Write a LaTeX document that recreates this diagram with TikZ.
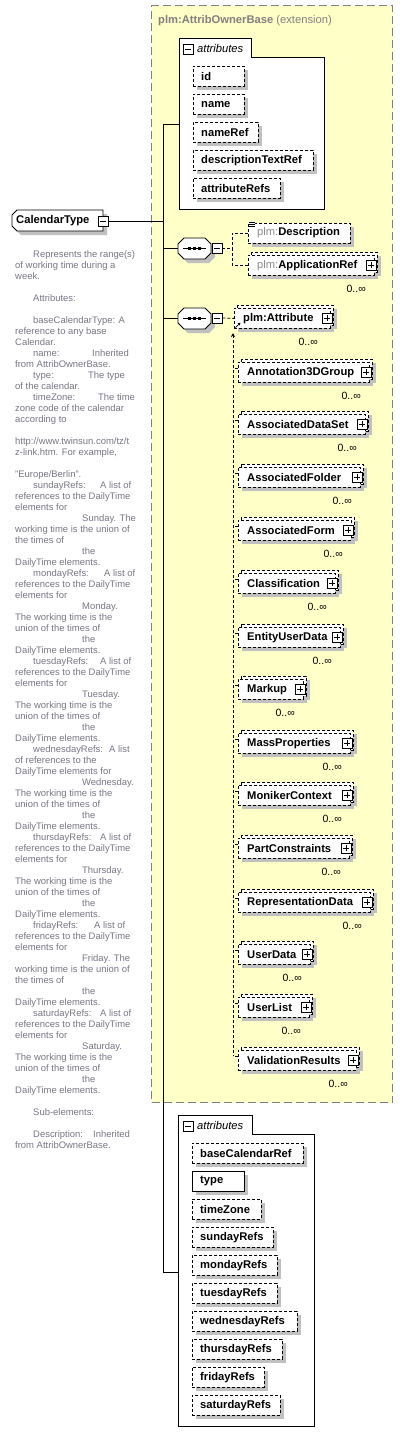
\documentclass[tikz,border=0pt]{standalone}
\usepackage{fontspec}
\setmainfont{Liberation Sans}
\usetikzlibrary{arrows.meta}
\definecolor{ylw}{RGB}{255,255,200}
\definecolor{frm}{RGB}{128,128,128}
\definecolor{shd}{RGB}{192,192,192}
\definecolor{doc}{RGB}{118,118,132}
\definecolor{nsg}{RGB}{140,140,140}
\newcommand\lblfont{\bfseries\fontsize{11.2}{13}\selectfont}
\newcommand\docfont{\fontsize{9.45}{11}\selectfont}
\tikzset{
  lbl/.style={font=\lblfont, inner sep=0pt, anchor=west},
  dl/.style={font=\docfont, text=doc, inner sep=0pt, anchor=base west},
  card/.style={font=\fontsize{10.5}{12}\selectfont, inner sep=0pt, anchor=east},
  dashbox/.style={draw, dash pattern=on 3pt off 2pt, line width=0.8pt, fill=white, inner sep=0pt, minimum height=20pt, anchor=north west},
  solidbox/.style={draw, line width=0.9pt, fill=white, inner sep=0pt, minimum height=20pt, anchor=north west},
  dashln/.style={draw, dash pattern=on 3pt off 2pt, line width=0.8pt, fill=white},
  pm/.style={draw, line width=0.8pt, fill=white, inner sep=0pt, minimum size=10pt},
  conn/.style={line width=0.9pt},
  dconn/.style={line width=0.8pt, dash pattern=on 3pt off 2pt},
  frame/.style={draw, fill=white, line width=0.9pt},
}
% plus / minus box: name, x, y, 1=plus 0=minus
\newcommand\pmb[4]{%
  \fill (#2+1.4,#3+1.4) +(-5,-5) rectangle +(5,5);
  \node[pm] (#1) at (#2,#3) {};
  \draw[line width=0.8pt] ([xshift=-3pt]#1.center) -- ([xshift=3pt]#1.center);
  \ifnum#4=1 \draw[line width=0.8pt] ([yshift=-3pt]#1.center) -- ([yshift=3pt]#1.center);\fi
}
% single attribute box: name, x0, ytop, xright, label, style
\newcommand\attr[6]{%
  \fill[shd] (#2+4,#3+4) rectangle (#4+4,#3+24);
  \node[#6, minimum width={(#4-#2)*1pt}] (#1) at (#2,#3) {};
  \node[lbl] (#1t) at ([xshift=8pt]#1.west) {#5};
}
% multi-occurrence element: name, x0, yc, R, label, card offset
\newcommand\multel[6]{%
  \fill[shd] (#2+4,#3-6) rectangle (#4+1,#3+14);
  \fill[shd] (#2+7,#3-9) rectangle (#4+4,#3+11);
  \path[dashln] (#2+3,#3-13) rectangle (#4,#3+7);
  \node[dashbox, minimum width={(#4-3-#2)*1pt}] (#1) at (#2,#3-10) {};
  \node[lbl] (#1t) at ([xshift=9pt]#1.west) {#5};
  \pmb{#1p}{#4-6}{#3}{1}
  \node[card] (#1c) at (#4-#6,#3+24) {0..∞};
}
% substitution member with tick to the vertical line
\newcommand\subel[4]{%
  \multel{#1}{238}{#2}{#3}{#4}{11}
  \draw[dconn] ([yshift=4pt]#1.west) -- +(-5,0);
}
% sequence compositor: name, x0, yc
\newcommand\seqn[3]{%
  \fill[shd] (#2+6+4,#3-10.5+4) -- (#2+27+4,#3-10.5+4) -- (#2+33+4,#3-4.5+4) -- (#2+33+4,#3+4.5+4) -- (#2+27+4,#3+10.5+4) -- (#2+6+4,#3+10.5+4) -- (#2+4,#3+4.5+4) -- (#2+4,#3-4.5+4) -- cycle;
  \draw[line width=0.9pt, fill=white] (#2+6,#3-10.5) -- (#2+27,#3-10.5) -- (#2+33,#3-4.5) -- (#2+33,#3+4.5) -- (#2+27,#3+10.5) -- (#2+6,#3+10.5) -- (#2,#3+4.5) -- (#2,#3-4.5) -- cycle;
  \node[inner sep=0pt, minimum width=33pt, minimum height=21pt] (#1) at (#2+16.5,#3) {};
  \draw[line width=0.8pt] (#2+5,#3) -- (#2+28,#3);
  \foreach \dx in {11.5,16.5,21.5} \fill (#2+\dx-1.5,#3-1.5) rectangle (#2+\dx+1.5,#3+1.5);
}
\newcommand\dln[4]{\node[dl] (#1) at (#3,257.5+11*#2) {#4};}

\begin{document}
\begin{tikzpicture}[x=1pt,y=-1pt]
\useasboundingbox (0,0) rectangle (403,1444);

% extension area
\node[draw=frm, fill=ylw, line width=1.2pt, dash pattern=on 8pt off 4pt, inner sep=0pt, minimum width=241pt, minimum height=1097pt, anchor=north west] (ext) at (151,5) {};
\node[anchor=base west, inner sep=0pt, text=frm, font=\fontsize{11.2}{13}\selectfont] (extt) at (158,23) {\textbf{plm:AttribOwnerBase} (extension)};

% top attributes frame
\path[frame] (179,38) -- (251,38) -- (251,57) -- (324,57) -- (324,209) -- (179,209) -- cycle;
\node[inner sep=0pt, minimum width=145pt, minimum height=152pt, anchor=north west] (attA) at (179,57) {};
\pmb{attAm}{188}{49}{0}
\node[anchor=west, inner sep=0pt, font=\itshape\fontsize{11.2}{13}\selectfont] (attAt) at (197,48) {attributes};
\attr{aid}{193}{66}{244}{id}{dashbox}
\attr{anm}{193}{94}{244}{name}{dashbox}
\attr{anr}{193}{122}{258}{nameRef}{dashbox}
\attr{adt}{193}{150}{313}{descriptionTextRef}{dashbox}
\attr{aar}{193}{178}{280}{attributeRefs}{dashbox}
\coordinate (attAin) at (179,124);

% CalendarType
\fill[shd] (21,214) -- (107,214) -- (107,235) -- (21,235) -- (16,230) -- (16,219) -- cycle;
\draw[line width=0.9pt, fill=white] (17,210) -- (103,210) -- (103,231) -- (17,231) -- (12,226) -- (12,215) -- cycle;
\node[inner sep=0pt, minimum width=91pt, minimum height=21pt, anchor=north west] (ct) at (12,210) {};
\node[lbl] (ctt) at (16,221) {CalendarType};
\pmb{ctm}{103}{221}{0}

% bus
\coordinate (bus1) at (163,124);
\coordinate (bus2) at (163,1272);
\coordinate (attBin) at (178,1272);
\draw[conn] (attAin) -- (bus1) -- (bus2) -- (attBin);
\draw[conn] (ctm.east) -- (ctm.east -| bus1);

% sequence 1
\seqn{sq1}{178}{248.5}
\pmb{sq1m}{217}{248}{0}
\draw[conn] (sq1.west -| bus1) -- (sq1.west);
\fill[shd] (252,227) rectangle (354,247);
\node[dashbox, minimum width=102pt] (dsc) at (248,223) {};
\node[lbl] (dsct) at (257,233) {{\mdseries\color{nsg}plm:}Description};
\fill[white] (248.5,221) rectangle (255,227);
\foreach \yy in {222,224,226} \draw[line width=0.6pt] (249,\yy) -- (255,\yy);
\multel{apr}{248}{265}{377}{{\mdseries\color{nsg}plm:}ApplicationRef}{11}
\coordinate (j1) at (232,248);
\draw[dconn] (sq1m.east) -- (j1);
\draw[dconn] (dsc.west) -| (j1);
\draw[dconn] (apr.west) -| (j1);

% sequence 2
\seqn{sq2}{178}{318.5}
\pmb{sq2m}{217}{318}{0}
\draw[conn] (sq2.west -| bus1) -- (sq2.west);
\multel{att}{234}{318}{333}{plm:Attribute}{15}
\draw[dconn] (sq2m.east) -- (att.west);
\draw[line width=0.7pt, -{Stealth[length=3pt,width=3pt]}] (235.5,327.5) -- (240.5,322.5);

% substitution group
\coordinate (v0) at (233,333);
\coordinate (v1) at (233,1056);
\draw[dconn, {Stealth[length=4pt,width=4pt]}-] (v0) -- (v1);
\subel{an3}{372}{372}{Annotation3DGroup}
\subel{ads}{424}{368}{AssociatedDataSet}
\subel{afo}{477}{363}{AssociatedFolder}
\subel{afm}{530}{354}{AssociatedForm}
\subel{cls}{583}{338}{Classification}
\subel{eud}{637}{343}{EntityUserData}
\subel{mku}{689}{306}{Markup}
\subel{mas}{743}{353}{MassProperties}
\subel{mon}{795}{353}{MonikerContext}
\subel{pct}{848}{352}{PartConstraints}
\subel{rep}{902}{373}{RepresentationData}
\subel{usd}{954}{313}{UserData}
\subel{usl}{1007}{312}{UserList}
\subel{val}{1060}{359}{ValidationResults}

% bottom attributes frame
\path[frame] (178,1115) -- (252,1115) -- (252,1134) -- (314,1134) -- (314,1426) -- (178,1426) -- cycle;
\node[inner sep=0pt, minimum width=136pt, minimum height=292pt, anchor=north west] (attB) at (178,1134) {};
\pmb{attBm}{188}{1126}{0}
\node[anchor=west, inner sep=0pt, font=\itshape\fontsize{11.2}{13}\selectfont] (attBt) at (197,1125) {attributes};
\attr{bbc}{192}{1143}{303}{baseCalendarRef}{dashbox}
\attr{bty}{192}{1171}{244}{type}{solidbox}
\attr{btz}{192}{1199}{261}{timeZone}{dashbox}
\attr{bsu}{192}{1227}{273}{sundayRefs}{dashbox}
\attr{bmo}{192}{1255}{277}{mondayRefs}{dashbox}
\attr{btu}{192}{1283}{277}{tuesdayRefs}{dashbox}
\attr{bwe}{192}{1311}{297}{wednesdayRefs}{dashbox}
\attr{bth}{192}{1339}{282}{thursdayRefs}{dashbox}
\attr{bfr}{192}{1367}{264}{fridayRefs}{dashbox}
\attr{bsa}{192}{1395}{280}{saturdayRefs}{dashbox}

% documentation
\dln{d0}{0}{33}{Represents the range(s)}
\dln{d1}{1}{15}{of working time during a}
\dln{d2}{2}{15}{week.}
\dln{d4}{4}{33}{Attributes:}
\dln{d6}{6}{33}{baseCalendarType: A}
\dln{d7}{7}{15}{reference to any base}
\dln{d8}{8}{15}{Calendar.}
\dln{d9}{9}{33}{name:}
\dln{d9b}{9}{92}{Inherited}
\dln{d10}{10}{15}{from AttribOwnerBase.}
\dln{d11}{11}{33}{type:}
\dln{d11b}{11}{88}{The type}
\dln{d12}{12}{15}{of the calendar.}
\dln{d13}{13}{33}{timeZone:}
\dln{d13b}{13}{98}{The time}
\dln{d14}{14}{15}{zone code of the calendar}
\dln{d15}{15}{15}{according to}
\dln{d17}{17}{15}{http://www.twinsun.com/tz/t}
\dln{d18}{18}{15}{z-link.htm. For example,}
\dln{d20}{20}{15}{"Europe/Berlin".}
\dln{d21}{21}{33}{sundayRefs:}
\dln{d21b}{21}{100}{A list of}
\dln{d22}{22}{15}{references to the DailyTime}
\dln{d23}{23}{15}{elements for}
\dln{d24}{24}{82}{Sunday. The}
\dln{d25}{25}{15}{working time is the union of}
\dln{d26}{26}{15}{the times of}
\dln{d27}{27}{82}{the}
\dln{d28}{28}{15}{DailyTime elements.}
\dln{d29}{29}{33}{mondayRefs:}
\dln{d29b}{29}{104}{A list of}
\dln{d30}{30}{15}{references to the DailyTime}
\dln{d31}{31}{15}{elements for}
\dln{d32}{32}{82}{Monday.}
\dln{d33}{33}{15}{The working time is the}
\dln{d34}{34}{15}{union of the times of}
\dln{d35}{35}{82}{the}
\dln{d36}{36}{15}{DailyTime elements.}
\dln{d37}{37}{33}{tuesdayRefs:}
\dln{d37b}{37}{100}{A list of}
\dln{d38}{38}{15}{references to the DailyTime}
\dln{d39}{39}{15}{elements for}
\dln{d40}{40}{82}{Tuesday.}
\dln{d41}{41}{15}{The working time is the}
\dln{d42}{42}{15}{union of the times of}
\dln{d43}{43}{82}{the}
\dln{d44}{44}{15}{DailyTime elements.}
\dln{d45}{45}{33}{wednesdayRefs:}
\dln{d45b}{45}{109}{A list}
\dln{d46}{46}{15}{of references to the}
\dln{d47}{47}{15}{DailyTime elements for}
\dln{d48}{48}{82}{Wednesday.}
\dln{d49}{49}{15}{The working time is the}
\dln{d50}{50}{15}{union of the times of}
\dln{d51}{51}{82}{the}
\dln{d52}{52}{15}{DailyTime elements.}
\dln{d53}{53}{33}{thursdayRefs:}
\dln{d53b}{53}{100}{A list of}
\dln{d54}{54}{15}{references to the DailyTime}
\dln{d55}{55}{15}{elements for}
\dln{d56}{56}{82}{Thursday.}
\dln{d57}{57}{15}{The working time is the}
\dln{d58}{58}{15}{union of the times of}
\dln{d59}{59}{82}{the}
\dln{d60}{60}{15}{DailyTime elements.}
\dln{d61}{61}{33}{fridayRefs:}
\dln{d61b}{61}{94}{A list of}
\dln{d62}{62}{15}{references to the DailyTime}
\dln{d63}{63}{15}{elements for}
\dln{d64}{64}{82}{Friday. The}
\dln{d65}{65}{15}{working time is the union of}
\dln{d66}{66}{15}{the times of}
\dln{d67}{67}{82}{the}
\dln{d68}{68}{15}{DailyTime elements.}
\dln{d69}{69}{33}{saturdayRefs:}
\dln{d69b}{69}{100}{A list of}
\dln{d70}{70}{15}{references to the DailyTime}
\dln{d71}{71}{15}{elements for}
\dln{d72}{72}{82}{Saturday.}
\dln{d73}{73}{15}{The working time is the}
\dln{d74}{74}{15}{union of the times of}
\dln{d75}{75}{82}{the}
\dln{d76}{76}{15}{DailyTime elements.}
\dln{d78}{78}{33}{Sub-elements:}
\dln{d80}{80}{33}{Description:}
\dln{d80b}{80}{93}{Inherited}
\dln{d81}{81}{15}{from AttribOwnerBase.}
\end{tikzpicture}
\end{document}
